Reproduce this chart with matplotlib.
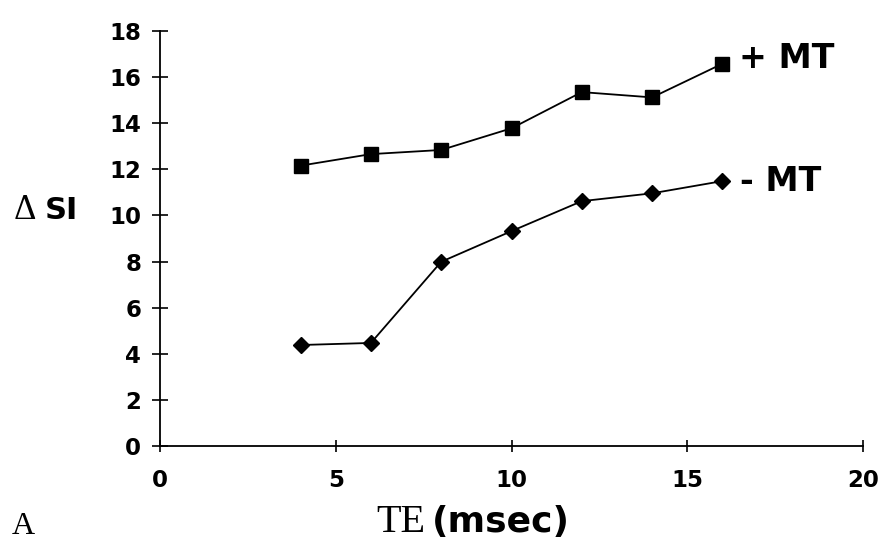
import matplotlib
matplotlib.use("Agg")
import matplotlib.pyplot as plt

te = [4, 6, 8, 10, 12, 14, 16]
plus_mt = [12.16, 12.66, 12.84, 13.78, 15.35, 15.12, 16.58]
minus_mt = [4.38, 4.47, 7.99, 9.32, 10.62, 10.96, 11.49]
xticks = [0, 5, 10, 15, 20]
yticks = [0, 2, 4, 6, 8, 10, 12, 14, 16, 18]

SANS = "DejaVu Sans"
SERIF = "Liberation Serif"

fig = plt.figure(figsize=(8.83, 5.42), dpi=100)
ax = fig.add_axes([160/883, 1-446/542, (863-160)/883, (446-31)/542])

ax.plot(te, plus_mt, color="black", lw=1.3, marker="s", ms=9.5, clip_on=False)
ax.plot(te, minus_mt, color="black", lw=1.3, marker="D", ms=7.8, clip_on=False)

ax.set_xlim(0, 20)
ax.set_ylim(0, 18)
ax.set_xticks(xticks)
ax.set_yticks(yticks)
ax.set_xticklabels([str(v) for v in xticks], fontfamily=SANS, fontweight="bold", fontsize=16.5)
ax.set_yticklabels([str(v) for v in yticks], fontfamily=SANS, fontweight="bold", fontsize=16.5)
for s in ["top", "right"]:
    ax.spines[s].set_visible(False)
for s in ["left", "bottom"]:
    ax.spines[s].set_linewidth(1.3)
ax.tick_params(axis="y", direction="inout", length=11, width=1.2, pad=8)
ax.tick_params(axis="x", direction="inout", length=9, width=1.2, pad=12)

# series labels
ax.annotate("+ MT", xy=(te[-1], plus_mt[-1]), xytext=(12, 4), textcoords="offset points",
            ha="left", va="center", fontfamily=SANS, fontweight="bold", fontsize=24)
ax.annotate("- MT", xy=(te[-1], minus_mt[-1]), xytext=(13, 0), textcoords="offset points",
            ha="left", va="center", fontfamily=SANS, fontweight="bold", fontsize=24)

# y label
fig.text(14/883, 1-211/542, "Δ", family=SERIF, fontsize=25, ha="left", va="center")
fig.text(45/883, 1-210/542, "SI", family=SANS, fontweight="bold", fontsize=22, ha="left", va="center")

# x label
fig.text(376/883, 1-522/542, "TE", family=SERIF, fontsize=29, ha="left", va="center")
fig.text(432/883, 1-522/542, "(msec)", family=SANS, fontweight="bold", fontsize=26, ha="left", va="center")

fig.text(12/883, 1-527/542, "A", family=SERIF, fontsize=23, ha="left", va="center")

fig.savefig("out.png", dpi=100)
